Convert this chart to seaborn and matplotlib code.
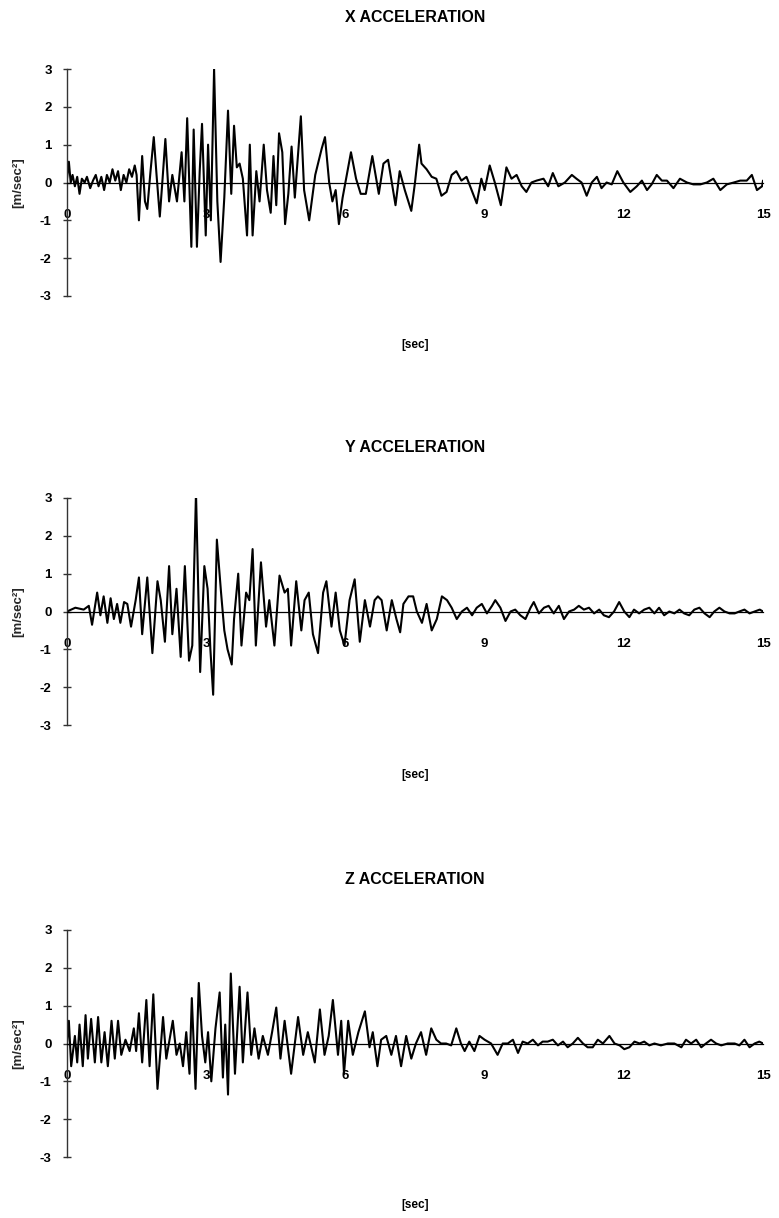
import numpy as np
import pandas as pd
import matplotlib
matplotlib.use("Agg")
import matplotlib.pyplot as plt
import seaborn as sns

# ---- acceleration records [m/sec^2] versus time [sec] ----
x_time = [0.0, 0.04, 0.08, 0.12, 0.17, 0.22, 0.27, 0.32, 0.38, 0.43, 0.5, 0.56, 0.62, 0.68,
          0.74, 0.8, 0.86, 0.92, 0.98, 1.04, 1.1, 1.16, 1.22, 1.28, 1.34, 1.4, 1.46, 1.5,
          1.55, 1.62, 1.68, 1.73, 1.8, 1.87, 1.93, 2.0, 2.06, 2.12, 2.2, 2.27, 2.37, 2.47,
          2.53, 2.59, 2.68, 2.73, 2.8, 2.86, 2.91, 2.99, 3.04, 3.1, 3.17, 3.24, 3.31, 3.39,
          3.47, 3.54, 3.6, 3.66, 3.72, 3.79, 3.88, 3.94, 4.0, 4.08, 4.15, 4.24, 4.31, 4.39,
          4.45, 4.51, 4.57, 4.64, 4.7, 4.77, 4.84, 4.91, 5.04, 5.11, 5.22, 5.35, 5.49, 5.56,
          5.65, 5.72, 5.79, 5.86, 5.94, 6.12, 6.23, 6.33, 6.44, 6.58, 6.72, 6.82, 6.92, 7.0,
          7.08, 7.17, 7.28, 7.42, 7.5, 7.59, 7.64, 7.75, 7.86, 7.96, 8.07, 8.18, 8.29, 8.39,
          8.5, 8.61, 8.72, 8.83, 8.93, 9.0, 9.11, 9.22, 9.35, 9.47, 9.58, 9.69, 9.8, 9.9,
          10.01, 10.12, 10.27, 10.37, 10.47, 10.59, 10.73, 10.88, 10.98, 11.09, 11.2, 11.31,
          11.42, 11.52, 11.63, 11.74, 11.86, 11.99, 12.14, 12.28, 12.39, 12.5, 12.6, 12.71,
          12.82, 12.93, 13.07, 13.21, 13.36, 13.5, 13.65, 13.79, 13.93, 14.08, 14.22, 14.37,
          14.51, 14.65, 14.76, 14.87, 14.98, 15.0]
x_accel = [0.1, 0.55, 0.0, 0.2, -0.1, 0.15, -0.3, 0.1, 0.0, 0.15, -0.15, 0.05, 0.2, -0.1,
           0.15, -0.2, 0.2, 0.0, 0.35, 0.05, 0.3, -0.2, 0.2, 0.0, 0.35, 0.15, 0.45, 0.2,
           -1.0, 0.7, -0.5, -0.7, 0.3, 1.2, 0.2, -0.9, 0.1, 1.15, -0.5, 0.2, -0.5, 0.8,
           -0.5, 1.7, -1.7, 1.4, -1.7, 0.3, 1.55, -1.4, 1.0, -1.0, 3.0, -0.5, -2.1, -0.4,
           1.9, -0.3, 1.5, 0.4, 0.5, 0.1, -1.4, 1.0, -1.4, 0.3, -0.5, 1.0, -0.2, -0.8,
           0.7, -0.6, 1.3, 0.8, -1.1, -0.3, 0.95, -0.4, 1.75, -0.2, -1.0, 0.2, 0.9, 1.2,
           0.0, -0.5, -0.2, -1.1, -0.4, 0.8, 0.1, -0.3, -0.3, 0.7, -0.3, 0.5, 0.6, 0.0,
           -0.6, 0.3, -0.2, -0.75, 0.0, 1.0, 0.5, 0.35, 0.15, 0.1, -0.35, -0.25, 0.2, 0.3,
           0.05, 0.15, -0.2, -0.55, 0.1, -0.2, 0.45, 0.0, -0.6, 0.4, 0.1, 0.2, -0.1, -0.25,
           0.0, 0.05, 0.1, -0.1, 0.25, -0.1, 0.0, 0.2, 0.1, 0.0, -0.35, 0.0,
           0.15, -0.15, 0.0, -0.05, 0.3, 0.0, -0.25, -0.1, 0.05, -0.2, -0.05, 0.2,
           0.05, 0.05, -0.15, 0.1, 0.0, -0.05, -0.05, 0.0, 0.1, -0.2, -0.05, 0.0,
           0.05, 0.05, 0.2, -0.2, -0.1, 0.05]

y_time = [0.0, 0.18, 0.36, 0.47, 0.54, 0.65, 0.72, 0.79, 0.87, 0.94, 1.01, 1.08, 1.15, 1.23,
          1.3, 1.38, 1.48, 1.55, 1.62, 1.73, 1.84, 1.95, 2.02, 2.11, 2.2, 2.27, 2.36, 2.45,
          2.54, 2.63, 2.7, 2.78, 2.87, 2.96, 3.03, 3.09, 3.15, 3.23, 3.32, 3.39, 3.46, 3.55,
          3.6, 3.69, 3.76, 3.86, 3.93, 4.0, 4.07, 4.18, 4.29, 4.36, 4.47, 4.58, 4.69, 4.76,
          4.83, 4.94, 5.05, 5.12, 5.21, 5.3, 5.41, 5.52, 5.59, 5.7, 5.79, 5.88, 5.98, 6.09,
          6.2, 6.31, 6.42, 6.53, 6.63, 6.7, 6.78, 6.89, 7.0, 7.1, 7.18, 7.25, 7.36, 7.46,
          7.54, 7.65, 7.75, 7.86, 7.97, 8.08, 8.19, 8.29, 8.4, 8.51, 8.62, 8.73, 8.83, 8.94,
          9.05, 9.16, 9.23, 9.34, 9.45, 9.56, 9.66, 9.77, 9.88, 9.99, 10.06, 10.17, 10.28,
          10.38, 10.49, 10.6, 10.71, 10.82, 10.93, 11.03, 11.14, 11.25, 11.36, 11.47, 11.57,
          11.68, 11.79, 11.9, 12.01, 12.12, 12.22, 12.33, 12.44, 12.55, 12.66, 12.76, 12.87,
          12.98, 13.09, 13.2, 13.3, 13.41, 13.52, 13.63, 13.74, 13.85, 13.95, 14.06, 14.17,
          14.28, 14.39, 14.49, 14.6, 14.71, 14.82, 14.93, 15.0]
y_accel = [0.0, 0.1, 0.05, 0.15, -0.35, 0.5, -0.1, 0.4, -0.3, 0.35, -0.2, 0.2, -0.3, 0.25,
           0.2, -0.4, 0.3, 0.9, -0.6, 0.9, -1.1, 0.8, 0.3, -0.8, 1.2, -0.6, 0.6, -1.2,
           1.2, -1.3, -0.9, 3.15, -1.6, 1.2, 0.6, -1.0, -2.2, 1.9, 0.5, -0.5, -1.0, -1.4,
           -0.2, 1.0, -0.9, 0.5, 0.3, 1.65, -0.9, 1.3, -0.4, 0.3, -0.9, 0.95, 0.5, 0.6,
           -0.9, 0.8, -0.5, 0.3, 0.5, -0.6, -1.1, 0.5, 0.8, -0.4, 0.5, -0.5, -0.9, 0.3,
           0.85, -0.8, 0.3, -0.4, 0.3, 0.4, 0.3, -0.5, 0.3, -0.2, -0.55, 0.2, 0.4, 0.4,
           0.0, -0.3, 0.2, -0.5, -0.2, 0.4, 0.3, 0.1, -0.2, 0.0, 0.1, -0.1, 0.1, 0.2,
           -0.05, 0.15, 0.3, 0.1, -0.25, 0.0, 0.05, -0.1, -0.2, 0.1, 0.25, -0.05, 0.1,
           0.15, -0.05, 0.15, -0.2, 0.0, 0.05, 0.15, 0.05, 0.1, -0.05, 0.05, -0.1,
           -0.15, 0.0, 0.25, 0.0, -0.15, 0.05, -0.05, 0.05, 0.1, -0.05, 0.1, -0.1,
           0.0, -0.05, 0.05, -0.05, -0.1, 0.05, 0.1, -0.05, -0.15, 0.0, 0.1, 0.0,
           -0.05, -0.05, 0.0, 0.05, -0.05, 0.0, 0.05, 0.0]

z_time = [0.0, 0.04, 0.09, 0.17, 0.22, 0.27, 0.34, 0.4, 0.45, 0.52, 0.6, 0.67, 0.74, 0.81,
          0.88, 0.96, 1.03, 1.1, 1.17, 1.26, 1.35, 1.44, 1.49, 1.55, 1.62, 1.71, 1.78, 1.86,
          1.95, 2.07, 2.14, 2.28, 2.36, 2.43, 2.5, 2.57, 2.64, 2.69, 2.77, 2.84, 2.91, 2.98,
          3.04, 3.11, 3.2, 3.29, 3.36, 3.41, 3.47, 3.53, 3.62, 3.72, 3.79, 3.89, 3.97, 4.04,
          4.13, 4.22, 4.33, 4.42, 4.51, 4.6, 4.69, 4.83, 4.98, 5.09, 5.19, 5.34, 5.45, 5.55,
          5.64, 5.73, 5.84, 5.91, 5.97, 6.06, 6.16, 6.28, 6.42, 6.52, 6.59, 6.69, 6.77, 6.88,
          6.99, 7.09, 7.2, 7.31, 7.42, 7.52, 7.63, 7.74, 7.85, 7.96, 8.06, 8.17, 8.28, 8.39,
          8.49, 8.57, 8.67, 8.78, 8.89, 9.0, 9.14, 9.28, 9.39, 9.5, 9.61, 9.72, 9.82, 9.93,
          10.04, 10.15, 10.25, 10.36, 10.47, 10.58, 10.69, 10.79, 10.9, 11.01, 11.12, 11.22,
          11.33, 11.44, 11.55, 11.69, 11.8, 11.91, 12.01, 12.12, 12.23, 12.34, 12.44, 12.55,
          12.66, 12.8, 12.95, 13.09, 13.24, 13.34, 13.45, 13.56, 13.67, 13.77, 13.88, 13.99,
          14.1, 14.24, 14.39, 14.49, 14.6, 14.71, 14.82, 14.92, 15.0]
z_accel = [0.0, 0.6, -0.6, 0.2, -0.5, 0.5, -0.6, 0.75, -0.4, 0.65, -0.5, 0.7, -0.5, 0.3,
           -0.6, 0.6, -0.4, 0.6, -0.3, 0.1, -0.2, 0.4, -0.2, 0.8, -0.5, 1.15, -0.6, 1.3,
           -1.2, 0.7, -0.4, 0.6, -0.3, 0.0, -0.6, 0.3, -0.8, 1.2, -1.2, 1.6, 0.2, -0.5,
           0.3, -1.0, 0.4, 1.35, -0.9, 0.5, -1.35, 1.85, -0.8, 1.5, -0.5, 1.35, -0.3, 0.4,
           -0.4, 0.2, -0.3, 0.3, 0.95, -0.4, 0.6, -0.8, 0.7, -0.3, 0.3, -0.5, 0.9, -0.3,
           0.2, 1.15, -0.3, 0.6, -0.8, 0.6, -0.3, 0.3, 0.85, -0.1, 0.3, -0.6, 0.1, 0.2,
           -0.3, 0.2, -0.6, 0.2, -0.4, 0.0, 0.3, -0.3, 0.4, 0.1, 0.0, 0.0, -0.05, 0.4,
           0.0, -0.2, 0.05, -0.2, 0.2, 0.1, 0.0, -0.3, 0.0, 0.0, 0.1, -0.25, 0.05, 0.0,
           0.1, -0.05, 0.05, 0.05, 0.1, -0.05, 0.05, -0.1, 0.0, 0.15, 0.0, -0.1,
           -0.1, 0.1, 0.0, 0.2, 0.0, -0.05, -0.15, -0.1, 0.05, 0.0, 0.05, -0.05,
           0.0, -0.05, 0.0, 0.0, -0.1, 0.1, 0.0, 0.1, -0.1, 0.0, 0.1, 0.0,
           -0.05, 0.0, 0.0, -0.05, 0.1, -0.1, 0.0, 0.05, 0.0]

titles = ["X ACCELERATION", "Y ACCELERATION", "Z ACCELERATION"]
x_ticks = [0, 3, 6, 9, 12, 15]
y_ticks = [-3, -2, -1, 0, 1, 2, 3]
x_label = "[sec]"
y_label = "[m/sec²]"

records = [(x_time, x_accel), (y_time, y_accel), (z_time, z_accel)]

sns.set_style("white")
plt.rcParams["font.family"] = ["Liberation Sans", "DejaVu Sans"]
plt.rcParams["font.weight"] = "bold"
plt.rcParams["text.color"] = "black"
plt.rcParams["xtick.color"] = "black"
plt.rcParams["ytick.color"] = "black"

W, H = 779, 1218
fig = plt.figure(figsize=(W / 100, H / 100), dpi=100)

# panel geometry in pixels: (top of +3, bottom of -3)
panel_px = [(69, 296), (498, 725), (930, 1157)]
title_px = [18, 447, 880]
xlabel_px = [345, 775, 1205]
left_px, right_px = 67, 763

for (t, a), (top, bot), title, ty, ly in zip(records, panel_px, titles, title_px, xlabel_px):
    ax = fig.add_axes([left_px / W, 1 - bot / H, (right_px - left_px) / W, (bot - top) / H])
    df = pd.DataFrame({"time": t, "accel": a})
    sns.lineplot(data=df, x="time", y="accel", ax=ax, color="black", linewidth=1.5,
                 estimator=None, sort=False)
    ax.set_xlim(0, 15)
    ax.set_ylim(-3, 3)
    for side in ["top", "right"]:
        ax.spines[side].set_visible(False)
    ax.spines["bottom"].set_position(("data", 0))
    ax.spines["bottom"].set_linewidth(0.9)
    ax.spines["bottom"].set_color("black")
    ax.spines["left"].set_linewidth(1.0)
    ax.spines["left"].set_color("#333333")
    ax.set_xticks(x_ticks)
    ax.set_xticklabels([str(v) for v in x_ticks], fontsize=9.5, fontweight="bold")
    ax.tick_params(axis="x", length=0, pad=19)
    ax.set_yticks(y_ticks)
    ax.set_yticklabels([str(v) for v in y_ticks], fontsize=9.5, fontweight="bold")
    ax.tick_params(axis="y", left=True, direction="inout", length=6, width=1.0,
                   color="#333333", pad=8)
    ax.set_xlabel("")
    ax.set_ylabel(y_label, fontsize=9.5, fontweight="bold")
    ax.yaxis.set_label_coords(-0.062, 0.5)
    fig.text(0.533, 1 - ty / H, title, ha="center", va="center",
             fontsize=11.5, fontweight="bold")
    fig.text(0.533, 1 - ly / H, x_label, ha="center", va="center",
             fontsize=8.5, fontweight="bold")

fig.savefig("out.png", dpi=100, facecolor="white")
